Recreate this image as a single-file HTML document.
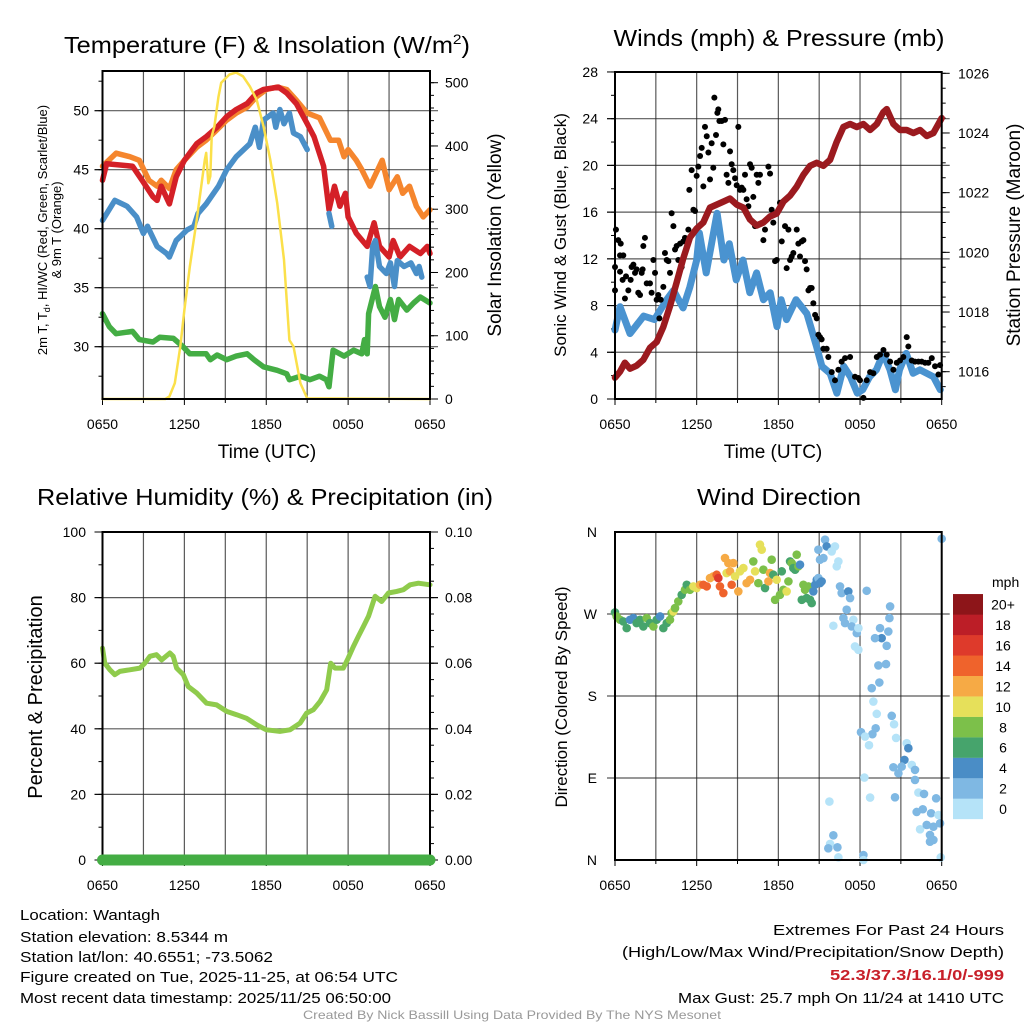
<!DOCTYPE html>
<html><head><meta charset="utf-8">
<style>
html,body{margin:0;padding:0;background:#fff;}
svg{display:block;font-family:"Liberation Sans",sans-serif;}
</style></head>
<body>
<svg id="fig" width="1024" height="1024" viewBox="0 0 1024 1024" xmlns="http://www.w3.org/2000/svg">
<rect width="1024" height="1024" fill="#fff"/>
<g id="layer"></g>
<text x="267" y="53" font-size="23" text-anchor="middle" textLength="406" lengthAdjust="spacingAndGlyphs">Temperature (F) &amp; Insolation (W/m<tspan font-size="14" dy="-9">2</tspan><tspan dy="9">)</tspan></text>
<text x="779" y="46" font-size="23" text-anchor="middle" textLength="331" lengthAdjust="spacingAndGlyphs">Winds (mph) &amp; Pressure (mb)</text>
<text x="265" y="505" font-size="23" text-anchor="middle" textLength="456" lengthAdjust="spacingAndGlyphs">Relative Humidity (%) &amp; Precipitation (in)</text>
<text x="779" y="505" font-size="23" text-anchor="middle" textLength="164" lengthAdjust="spacingAndGlyphs">Wind Direction</text>
<text x="267" y="458" font-size="19" text-anchor="middle">Time (UTC)</text>
<text x="773" y="458" font-size="19" text-anchor="middle">Time (UTC)</text>
<text transform="translate(47,230) rotate(-90)" font-size="13" text-anchor="middle">2m T, T<tspan font-size="9" dy="3">d</tspan><tspan dy="-3">, HI/WC (Red, Green, Scarlet/Blue)</tspan></text>
<text transform="translate(61,230) rotate(-90)" font-size="13" text-anchor="middle">&amp; 9m T (Orange)</text>
<text transform="translate(501,235) rotate(-90)" font-size="19" text-anchor="middle">Solar Insolation (Yellow)</text>
<text transform="translate(566,235) rotate(-90)" font-size="17" text-anchor="middle">Sonic Wind &amp; Gust (Blue, Black)</text>
<text transform="translate(1020,235) rotate(-90)" font-size="19" text-anchor="middle">Station Pressure (Maroon)</text>
<text transform="translate(42,697) rotate(-90)" font-size="20" text-anchor="middle">Percent &amp; Precipitation</text>
<text transform="translate(567,697) rotate(-90)" font-size="17" text-anchor="middle">Direction (Colored By Speed)</text>
<text x="992" y="587" font-size="14">mph</text>
<g font-size="15">
<text x="20" y="920" textLength="140" lengthAdjust="spacingAndGlyphs">Location: Wantagh</text>
<text x="20" y="942" textLength="208" lengthAdjust="spacingAndGlyphs">Station elevation: 8.5344 m</text>
<text x="20" y="962" textLength="253" lengthAdjust="spacingAndGlyphs">Station lat/lon: 40.6551; -73.5062</text>
<text x="20" y="982" textLength="378" lengthAdjust="spacingAndGlyphs">Figure created on Tue, 2025-11-25, at 06:54 UTC</text>
<text x="20" y="1003" textLength="371" lengthAdjust="spacingAndGlyphs">Most recent data timestamp: 2025/11/25 06:50:00</text>
</g>
<g font-size="15" text-anchor="end">
<text x="1004" y="935" textLength="231" lengthAdjust="spacingAndGlyphs">Extremes For Past 24 Hours</text>
<text x="1004" y="957" textLength="382" lengthAdjust="spacingAndGlyphs">(High/Low/Max Wind/Precipitation/Snow Depth)</text>
<text x="1004" y="980" fill="#c8202a" font-weight="bold" textLength="174" lengthAdjust="spacingAndGlyphs">52.3/37.3/16.1/0/-999</text>
<text x="1004" y="1003" textLength="326" lengthAdjust="spacingAndGlyphs">Max Gust: 25.7 mph On 11/24 at 1410 UTC</text>
</g>
<text x="512" y="1019" font-size="12" fill="#999" text-anchor="middle" textLength="418" lengthAdjust="spacingAndGlyphs">Created By Nick Bassill Using Data Provided By The NYS Mesonet</text>
</svg>
<script>
const timeLabels = ["0650","1250","1850","0050","0650"];
const tempTicks = [30,35,40,45,50];
const insolTicks = [0,100,200,300,400,500];
const windTicks = [0,4,8,12,16,20,24,28];
const presTicks = [1016,1018,1020,1022,1024,1026];
const rhTicks = [0,20,40,60,80,100];
const precipTicks = ["0.00","0.02","0.04","0.06","0.08","0.10"];
const dirTicks = ["N","E","S","W","N"];
const cbLabels = ["0","2","4","6","8","10","12","14","16","18","20+"];
const cbColors = ["#b5e3f8","#7fb8e3","#4a8dc6","#46a46c","#7cc04a","#e6e05a","#f6aa45","#ef632c","#de3a2b","#bc1e27","#8d1519"];

const orangeHrs = [0,1,2,2.7,3.4,4,4.3,4.9,5.4,6,6.9,7.6,8.4,9.1,9.8,10.6,11.3,12,12.8,13.5,14.2,15,15.9,16.7,17.3,17.7,18,18.6,19,19.6,20.5,21,21.6,22,22.5,23,23.5,24];
const orangeVals = [45.3,46.4,46.1,45.8,44.1,43.6,44.1,43.4,45.0,45.8,46.9,47.5,48.4,49.2,49.8,50.3,51.2,51.8,52.0,51.8,50.9,49.8,49.4,47.5,47.5,46.1,46.7,45.8,45.0,43.6,45.8,43.3,44.4,43.0,43.6,41.9,41.0,41.6];
const redHrs = [0,0.3,2.2,2.9,3.7,4,4.3,4.9,5.4,6,6.9,7.6,8.4,9.1,9.8,10.6,11.3,11.8,12.9,13.5,14.2,15,15.5,16.2,16.6,17,17.4,17.8,18,18.6,19.4,19.9,20.3,21,21.3,21.8,22.5,23.3,23.8,24];
const redVals = [44.1,45.5,45.3,44.1,42.7,42.4,43.6,42.1,44.4,45.8,47.2,47.8,48.6,49.5,50.1,50.6,51.5,51.8,52.0,51.5,50.6,48.9,47.8,45.3,41.6,43.6,41.9,43.0,41.0,39.6,38.5,40.5,38.5,37.6,39.0,37.6,38.5,37.9,38.5,37.9];
const blueHrs = [0,0.9,1.8,2.5,3,3.3,4,4.7,4.9,5.4,6.2,6.7,7,7.6,8.5,9.1,9.8,10.8,11.2,11.5,11.8,12.5,12.7,13,13.3,13.7,14,14.5,15,15.5,16.6,16.8,17.5,19.4,19.6,19.8,20,20.3,20.8,21.1,21.4,21.6,22.1,22.6,23.0,23.2,23.4];
const blueVals = [40.7,42.4,41.9,41.0,39.6,40.2,38.5,37.9,37.6,39.0,39.9,40.2,41.3,42.1,43.6,45.0,46.1,47.2,48.6,46.9,49.2,49.8,48.6,50.1,48.9,49.8,48.1,47.8,46.7,null,41.3,40.2,null,35.9,35.1,38.5,39.0,36.8,36.2,37.1,35.1,37.3,36.8,37.1,36.2,36.8,35.9];
const greenHrs = [0,0.5,1,2.2,2.7,3.7,4.2,5.2,5.9,6.4,7.6,7.9,8.4,9.1,9.8,10.6,11.1,11.8,12.8,13.5,13.7,14.5,15.2,15.9,16.4,16.6,16.9,17.7,18.4,19,19.2,19.4,19.5,20,20.3,20.7,21.1,21.4,21.7,22.3,22.8,23.3,24];
const greenVals = [32.8,31.7,31.1,31.3,30.6,30.4,30.8,30.7,30.0,29.4,29.4,28.9,29.3,28.9,29.2,29.4,28.9,28.3,28.0,27.7,27.2,27.5,27.2,27.5,27.2,26.6,29.7,29.2,29.7,29.4,30.6,29.4,32.8,35.1,33.4,32.5,34.0,32.3,34.0,33.1,33.7,34.2,33.7];
const solarHrs = [0,4.6,4.9,5.3,5.7,6,6.4,6.9,7.5,7.6,7.75,7.9,8,8.2,8.5,8.7,9.3,9.8,10.3,10.8,11.3,11.8,12.3,12.8,13.3,13.7,14,14.5,15,24];
const solarVals = [0,0,4,25,83,141,209,283,378,389,341,352,415,431,478,500,513,516,510,494,473,431,378,310,220,93,83,25,1,0];

const windHrs = [0,0.37,1.1,2.1,2.9,3.8,4.3,5.0,5.5,6.0,6.2,6.7,7.5,8.0,8.4,8.9,9.4,9.9,10.4,10.9,11.4,11.9,12.2,12.6,13.3,14.1,14.8,15.2,15.8,16.3,16.8,17.3,17.8,18.2,18.7,19.2,19.7,20.2,20.6,20.9,21.4,21.9,22.4,22.9,23.4,23.9];
const windVals = [5.9,7.9,5.6,7.1,6.8,8.5,9.3,7.8,9.6,11.9,14.2,10.8,15.9,11.9,13.3,10.2,11.9,9.1,10.8,8.5,9.1,6.2,8.5,6.8,8.5,7.3,4.5,2.8,2.2,0.5,2.8,1.9,0.5,0.8,1.9,2.5,3.9,2.5,0.8,2.5,3.9,2.2,2.5,2.2,1.9,0.8];
const gustHrs = [0,0,0.07,0.24,0.37,0.42,0.61,0.37,0.56,0.73,0.81,0.98,1.15,1.22,1.35,1.47,1.59,1.71,1.84,1.96,2.03,2.08,2.2,2.33,2.57,2.69,2.82,2.94,3.06,3.18,3.26,3.36,3.55,3.67,3.8,3.92,4.04,4.16,4.29,4.41,4.53,4.65,4.78,4.9,5.02,5.14,5.27,5.39,5.46,5.63,5.76,5.88,6.0,6.12,6.25,6.37,6.49,6.61,6.74,6.86,6.98,7.1,7.22,7.3,7.42,7.52,7.59,7.67,7.84,7.96,8.08,8.2,8.33,8.45,8.57,8.69,8.82,8.94,9.06,9.18,9.31,9.43,9.55,9.67,9.8,9.92,10.04,10.16,10.29,10.41,10.53,10.65,10.9,11.02,11.27,11.39,11.51,11.63,11.76,11.88,12.12,12.25,12.49,12.61,12.74,12.86,12.98,13.1,13.35,13.47,13.59,13.72,13.84,13.96,14.08,14.21,14.33,14.45,14.57,14.7,14.82,14.94,15.06,15.18,15.31,15.55,15.67,15.92,16.16,16.41,16.65,16.9,17.27,17.63,17.88,18.0,18.25,18.49,18.74,18.98,19.23,19.47,19.72,19.96,20.21,20.45,20.7,20.94,21.18,21.43,21.55,21.8,22.04,22.29,22.53,22.78,23.02,23.27,23.51,23.76,23.88];
const gustVals = [9.3,11.3,14.5,13.6,12.3,13.3,12.3,10.9,10.2,8.6,10.5,9.3,10.2,11.3,11.5,10.8,11.1,9.1,8.9,10.8,11.1,13.1,13.8,9.9,9.9,9.1,11.9,10.8,8.5,8.9,6.9,8.5,9.6,12.5,11.9,11.8,10.8,15.9,14.8,12.8,13.1,11.9,13.3,11.3,13.5,13.8,13.6,14.5,17.9,19.6,16.2,16.1,19.1,19.9,20.8,21.5,18.2,23.3,22.5,21.1,18.8,21.9,19.8,25.8,22.6,24.5,24.8,23.8,23.8,21.8,23.9,19.2,18.5,21.2,20.1,19.6,18.9,18.3,23.3,17.9,18.1,17.9,19.2,17.1,16.5,20.1,19.8,17.3,14.8,19.2,18.5,19.2,13.6,14.5,19.9,19.3,16.2,15.1,11.8,11.9,16.8,13.5,14.8,11.2,14.5,11.9,12.2,12.5,14.5,13.3,12.2,13.5,13.6,11.8,11.1,9.3,9.5,9.5,8.2,7.2,6.9,5.5,5.3,5.1,4.3,4.3,3.6,2.3,1.6,2.5,3.2,3.5,3.6,1.9,1.8,1.6,0.1,1.6,2.3,2.2,3.6,3.8,4.2,3.8,3.2,2.5,3.1,3.3,3.6,5.3,4.5,3.3,3.2,3.2,3.2,3.1,3.1,3.5,2.8,2.1,2.9];
const presHrs = [0,0.37,0.73,1.1,1.59,2.08,2.57,3.06,3.55,4.04,4.53,5.02,5.51,6.0,6.49,6.98,7.47,7.96,8.45,8.94,9.43,9.92,10.41,10.9,11.39,11.88,12.37,12.86,13.35,13.84,14.33,14.82,15.31,15.8,16.29,16.78,17.27,17.76,18.25,18.74,19.23,19.72,19.96,20.45,20.94,21.43,21.92,22.41,22.9,23.39,23.88,24];
const presVals = [1015.8,1016.0,1016.3,1016.1,1016.2,1016.4,1016.8,1017.0,1017.5,1018.2,1019.0,1019.8,1020.5,1020.8,1021.0,1021.5,1021.6,1021.7,1021.8,1021.6,1021.5,1021.1,1020.9,1021.0,1021.2,1021.3,1021.7,1021.9,1022.2,1022.6,1022.9,1023.0,1022.9,1023.1,1023.7,1024.2,1024.3,1024.2,1024.3,1024.1,1024.3,1024.7,1024.8,1024.3,1024.1,1024.1,1024.0,1024.1,1023.9,1024.0,1024.4,1024.5];

const rhHrs = [0,0.17,0.54,0.9,1.27,2.0,2.74,3.1,3.47,3.96,4.33,4.94,5.18,5.43,5.92,6.28,6.9,7.63,8.36,9.1,9.83,10.56,11.3,12.0,13.0,13.74,14.47,14.96,15.45,15.94,16.43,16.72,17.04,17.65,18.0,18.39,18.75,19.12,19.49,19.98,20.46,20.95,21.56,22.05,22.54,23.15,24];
const rhVals = [64.6,60.0,58.0,56.5,57.5,58.0,58.5,60.0,62.1,62.6,61.0,63.1,62.1,58.5,56.5,52.9,50.9,47.8,47.3,45.3,44.3,43.2,41.2,39.7,39.2,39.7,41.7,44.8,45.8,48.3,51.9,60.0,58.5,58.5,61.5,65.1,68.2,71.2,74.3,80.4,78.8,81.4,81.9,82.4,83.9,84.4,83.9];
const precipHrs = [0,24];
const precipVals = [0,0];

const dirHrs = [0,0.12,0.37,0.61,0.86,1.1,1.35,1.59,1.84,2.08,2.33,2.57,2.82,3.06,3.31,3.55,3.8,4.04,4.16,4.29,4.41,4.65,4.9,5.14,5.27,5.51,5.76,6.0,6.25,6.49,6.74,6.98,7.22,7.47,7.59,7.71,7.96,8.08,8.2,8.33,8.45,8.57,8.69,8.82,9.06,9.18,9.43,9.67,9.92,10.16,10.29,10.53,10.65,10.78,10.9,11.02,11.27,11.39,11.51,11.63,11.76,11.88,12.12,12.25,12.37,12.61,12.74,12.86,12.98,13.1,13.23,13.35,13.47,13.59,13.72,13.84,13.96,14.08,14.21,14.33,14.45,14.57,14.7,14.82,14.94,15.06,15.18,15.06,15.31,14.94,15.43,15.55,15.92,16.16,16.41,16.29,16.53,16.65,17.14,17.27,17.02,16.78,17.51,16.9,17.39,17.76,17.88,17.63,17.88,16.04,18.49,20.21,20.16,19.47,19.59,19.1,20.08,19.96,19.35,19.91,19.42,18.86,18.98,19.23,19.15,18.91,18.07,18.37,18.66,20.33,20.5,20.65,21.43,21.55,21.26,21.06,20.82,20.45,21.8,22.04,22.04,20.57,18.74,18.32,15.75,16.04,15.8,15.67,16.34,16.41,18.25,18.25,22.29,22.7,22.16,22.61,23.22,23.59,23.76,22.41,22.9,23.39,23.14,23.14,23.39,23.88,23.93,24];
const dirVals = [271.7,267.3,263.7,261.8,254.5,263.7,265.5,260.0,263.7,256.3,265.5,260.0,256.3,263.7,267.3,254.5,260.0,263.7,271.0,272.8,276.5,283.8,291.1,296.6,302.1,296.6,300.3,298.5,302.1,302.1,300.3,309.4,311.3,313.1,309.4,300.3,293.0,331.4,314.9,325.9,316.8,302.1,325.9,311.3,294.8,316.8,320.4,303.9,307.6,327.7,316.8,303.9,346.1,340.6,318.6,298.5,305.8,314.9,329.6,313.1,285.6,307.6,291.1,316.8,296.6,294.8,305.8,327.7,325.9,320.4,318.6,335.1,322.3,324.1,285.6,302.1,296.6,287.5,300.3,285.6,282.0,294.8,302.1,307.6,309.4,303.9,305.8,329.6,331.4,340.6,351.6,344.2,338.7,344.2,327.7,322.3,300.3,293.0,294.8,287.5,274.7,265.5,263.7,260.0,256.3,249.0,254.5,234.4,230.7,257.1,295.5,278.3,265.5,254.5,243.5,243.5,250.8,235.1,213.5,215.0,194.8,188.6,173.9,160.4,144.6,138.1,140.3,135.5,126.0,158.2,149.0,134.0,128.2,122.7,109.9,102.5,95.2,101.8,104.4,98.9,87.9,68.8,68.5,90.5,64.1,27.1,17.6,12.8,13.9,2.9,5.5,0,74.0,72.5,52.7,55.7,51.3,67.7,49.4,33.7,38.5,36.6,27.5,20.1,22.0,40.3,2.9,352.6];
const dirSpeeds = [7,8,8,6,6,5,4,6,6,6,8,6,8,6,5,6,7,8,8,10,8,8,7,8,6,8,10,10,13,14,14,13,13,14,17,14,14,12,10,12,12,15,12,10,12,10,10,13,12,8,10,8,10,10,8,6,12,12,8,7,8,10,8,6,9,10,8,6,8,6,7,8,8,4,7,8,8,6,8,6,6,4,4,4,3,4,4,3,3,3,3,4,1,1,1,1,3,3,4,3,3,3,1,3,3,3,1,1,1,1,3,3,3,3,4,3,3,3,3,3,3,3,1,1,3,3,3,1,1,3,1,1,1,4,4,3,3,3,1,3,3,3,1,1,1,3,1,3,3,1,3,1,1,3,3,3,3,3,1,1,3,3,3,3,3,3,1,3,3];

const NS = "http://www.w3.org/2000/svg";
const layer = document.getElementById("layer");
function mk(tag, attrs, parent){
  const e = document.createElementNS(NS, tag);
  for (const k in attrs) e.setAttribute(k, attrs[k]);
  (parent||layer).appendChild(e);
  return e;
}
const L = {x0:102.5, x1:430}, R = {x0:615, x1:941.7};
function xScale(P){ return h => P.x0 + h/24*(P.x1-P.x0); }
const x1s = xScale(L), x2s = xScale(R);
const tY = v => 110.7 + (50 - v)*11.8;
const iY = v => 399 - v*0.6326;
const wY = v => 399 - v*11.68;
const pY = v => 371.7 - (v - 1016)*29.84;
const rY = v => 860 - v*3.28;
const cY = v => 860 - v*3280;
const dY = v => 860 - v*(328/360);

function path(hrs, vals, xs, ys, color, w, name){
  let d = "", pen = false;
  for (let i=0;i<hrs.length;i++){
    if (vals[i]===null){ pen=false; continue; }
    d += (pen?"L":"M") + xs(hrs[i]).toFixed(1) + "," + ys(vals[i]).toFixed(1);
    pen = true;
  }
  const el = mk("path", {d:d, fill:"none", stroke:color, "stroke-width":w, "stroke-linejoin":"round", "stroke-linecap":"round"});
  
  
  return el;
}
function frame(P, y0, y1, name){
  const g = mk("g", {});
  
  
  for (let h=0; h<=24; h+=3){
    const x = P.x0 + h/24*(P.x1-P.x0);
    mk("line", {x1:x, x2:x, y1:y0, y2:y1, stroke:"#222", "stroke-width":1.2, "stroke-opacity":0.75}, g);
    mk("line", {x1:x, x2:x, y1:y1, y2:y1+(h%6===0?6:4), stroke:"#000", "stroke-width":1}, g);
  }
  timeLabels.forEach((t,i)=>{
    const tx = mk("text", {x:P.x0 + i*6/24*(P.x1-P.x0), y:y1+30, "font-size":14, "text-anchor":"middle"}, g);
    tx.textContent = t;
    
    
  });
  return g;
}
function hgrid(g, P, ys, vals){
  vals.forEach(v => mk("line", {x1:P.x0-8, x2:P.x1+8, y1:ys(v), y2:ys(v), stroke:"#222", "stroke-width":1.2, "stroke-opacity":0.75}, g));
}
function border(P, y0, y1){
  const b = mk("rect", {x:P.x0, y:y0, width:P.x1-P.x0, height:y1-y0, fill:"none", stroke:"#000", "stroke-width":2});
  
  
}
function ticks(g, x, dir, ys, lo, hi, step, len){
  for (let v=lo; v<=hi+1e-9; v+=step){
    const y = ys(v);
    mk("line", {x1:x, x2:x+dir*len, y1:y, y2:y, stroke:"#000", "stroke-width":1}, g);
  }
}
function labels(g, x, anchor, ys, vals, texts){
  vals.forEach((v,i)=>{
    const t = mk("text", {x:x, y:ys(v)+5, "font-size":14, "text-anchor":anchor}, g);
    t.textContent = texts ? texts[i] : v;
    
    
  });
}

// panel 1
const g1 = frame(L, 71, 399, "temperature-panel");
hgrid(g1, L, tY, tempTicks);
ticks(g1, L.x0, -1, tY, 27.5, 52.5, 2.5, 4); ticks(g1, L.x0, -1, tY, 30, 50, 5, 8);
ticks(g1, L.x1, 1, iY, 0, 500, 20, 4); ticks(g1, L.x1, 1, iY, 0, 500, 100, 8);
labels(g1, 89, "end", tY, tempTicks);
labels(g1, 445, "start", iY, insolTicks);
path(greenHrs, greenVals, x1s, tY, "#44ad44", 5.5, "dewpoint-line");
path(orangeHrs, orangeVals, x1s, tY, "#f5862e", 5.5, "9m-temperature-line");
path(redHrs, redVals, x1s, tY, "#d42027", 5.5, "2m-temperature-line");
path(blueHrs, blueVals, x1s, tY, "#4a8fc8", 5.5, "wind-chill-line");
path(solarHrs, solarVals, x1s, iY, "#fbe04a", 2.5, "solar-insolation-line");
border(L, 71, 399);

// panel 2
const g2 = frame(R, 72, 399, "wind-panel");
hgrid(g2, R, wY, windTicks.slice(1,7));
ticks(g2, R.x0, -1, wY, 0, 28, 2, 4); ticks(g2, R.x0, -1, wY, 0, 28, 4, 8);
ticks(g2, R.x1, 1, pY, 1015.5, 1026, 0.5, 4); ticks(g2, R.x1, 1, pY, 1016, 1026, 2, 8);
labels(g2, 598, "end", wY, windTicks);
labels(g2, 958, "start", pY, presTicks);
path(windHrs, windVals, x2s, wY, "#4a93d0", 7, "sonic-wind-line");
gustHrs.forEach((h,i)=>{
  const c = mk("circle", {cx:x2s(h), cy:wY(gustVals[i]), r:3, fill:"#000"});
  
  
});
path(presHrs, presVals, x2s, pY, "#9b1a1f", 6.5, "pressure-line");
border(R, 72, 399);

// panel 3
const g3 = frame(L, 532, 860, "humidity-panel");
hgrid(g3, L, rY, [20,40,60,80]);
ticks(g3, L.x0, -1, rY, 0, 100, 10, 4); ticks(g3, L.x0, -1, rY, 0, 100, 20, 8);
ticks(g3, L.x1, 1, rY, 0, 100, 5, 4); ticks(g3, L.x1, 1, rY, 0, 100, 20, 8);
labels(g3, 86, "end", rY, rhTicks);
labels(g3, 445, "start", rY, rhTicks, precipTicks);
path(rhHrs, rhVals, x1s, rY, "#8fcb4c", 5, "relative-humidity-line");
border(L, 532, 860);
path(precipHrs, precipVals, x1s, cY, "#44ad44", 11, "precipitation-line");

// panel 4
const g4 = frame(R, 532, 860, "direction-panel");
hgrid(g4, R, dY, [90,180,270]);
labels(g4, 597, "end", dY, [0,90,180,270,360], dirTicks);
dirHrs.forEach((h,i)=>{
  const bin = Math.min(10, Math.floor(dirSpeeds[i]/2));
  const c = mk("circle", {cx:x2s(h), cy:dY(dirVals[i]), r:4.3, fill:cbColors[bin]});
  
  
});
border(R, 532, 860);

cbLabels.forEach((lab,i)=>{
  const y = 819 - (i+1)*20.45;
  const r = mk("rect", {x:953, y:y, width:30, height:20.6, fill:cbColors[i]});
  
  
  const t = mk("text", {x:1003, y:y+15.5, "font-size":14, "text-anchor":"middle"});
  t.textContent = lab;
  
  
});
</script>
</body></html>
